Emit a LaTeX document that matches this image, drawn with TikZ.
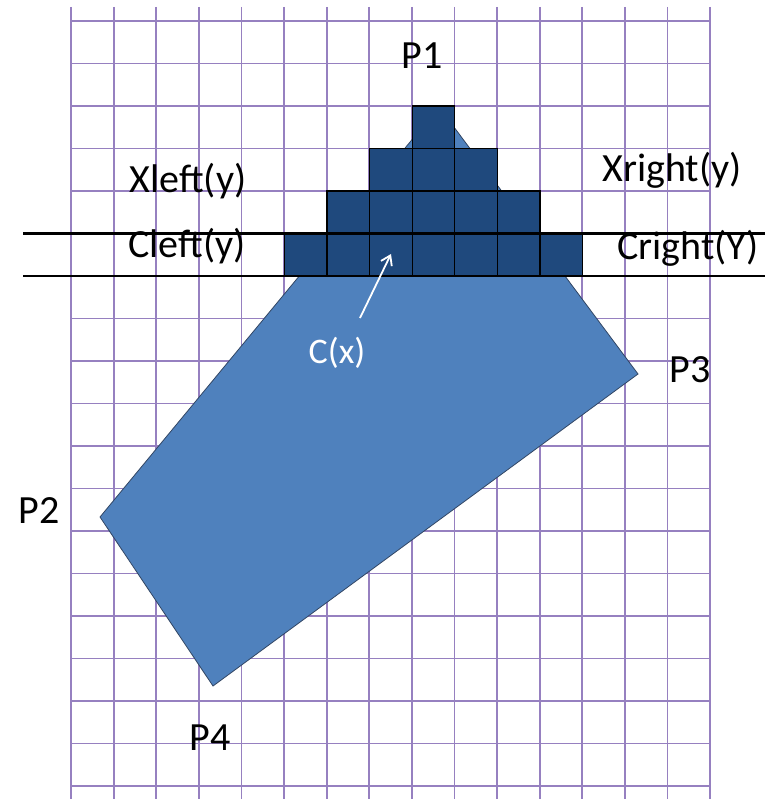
\documentclass[tikz,border=0pt]{standalone}
\usepackage{fontspec}
\setmainfont{Carlito}
\usetikzlibrary{arrows.meta}
\definecolor{gridc}{RGB}{150,128,192}
\definecolor{polyc}{RGB}{79,129,189}
\definecolor{polyedge}{RGB}{50,70,100}
\definecolor{pixc}{RGB}{31,73,125}
\begin{document}
\begin{tikzpicture}[x=1pt,y=-1pt,
  gridline/.style={draw=gridc,line width=1.8pt},
  scanline/.style={draw=black,line width=2.8pt},
  pixel/.style={fill=pixc,draw=black,line width=1.2pt},
  lbl/.style={font=\fontsize{40}{40}\selectfont,inner sep=0pt,anchor=base},
  wlbl/.style={font=\fontsize{36}{36}\selectfont,inner sep=0pt,anchor=base,text=white}]
\useasboundingbox (0,0) rectangle (773,799);
% grid
\foreach \k in {0,...,15}{
  \draw[gridline] ({71+42.6*\k},7) -- ({71+42.6*\k},799);
}
\foreach \k in {0,...,18}{
  \draw[gridline] (71,{21+42.5*\k}) -- (710,{21+42.5*\k});
}
% polygon
\coordinate (p1) at (439,107);
\coordinate (p3) at (638,374);
\coordinate (p4) at (213,686);
\coordinate (p2) at (100,517);
\draw[fill=polyc,draw=polyedge,line width=0.8pt] (p1) -- (p3) -- (p4) -- (p2) -- cycle;
% pixels
\foreach \r/\a/\b in {0/3/3, 1/2/4, 2/1/5, 3/0/6}{
  \foreach \c in {\a,...,\b}{
    \draw[pixel] ({284.4+42.6*\c},{106+42.5*\r}) rectangle ++(42.6,42.5);
  }
}
% scan lines
\coordinate (sl1) at (23,233.5);
\coordinate (sr1) at (765,233.5);
\coordinate (sl2) at (23,276);
\coordinate (sr2) at (765,276);
\draw[scanline] (sl1) -- (sr1);
\draw[scanline] (sl2) -- (sr2);
% labels
\node[lbl] (P1) at (422,69) {P1};
\node[lbl] (P2) at (39,523) {P2};
\node[lbl] (P3) at (690,382) {P3};
\node[lbl] (P4) at (210,750) {P4};
\node[lbl] (xl) at (188,193) {Xleft(y)};
\node[lbl] (xr) at (672,182) {Xright(y)};
\node[lbl] (cl) at (187,258) {Cleft(y)};
\node[lbl] (cr) at (688,259) {Cright(Y)};
\node[wlbl] (cx) at (337,363) {C(x)};
\coordinate (ca) at (360,318);
\coordinate (cb) at (391,254);
\draw[white,line width=1.8pt,-{Straight Barb[length=9pt,width=12pt]}] (ca) -- (cb);
\end{tikzpicture}
\end{document}
